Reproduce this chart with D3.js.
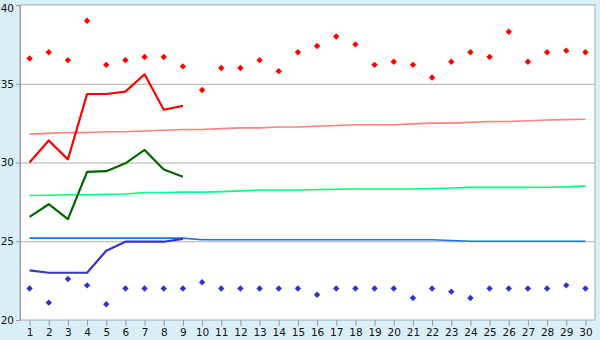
<!DOCTYPE html>
<html>
<head>
<meta charset="utf-8">
<style>
body { margin: 0; background: #d9eff7; }
svg { display: block; }
.axis text { font-family: "DejaVu Sans", Verdana, sans-serif; font-size: 10.5px; fill: #111; }
.axis path, .axis line { stroke: #999; }
.grid line { stroke: #b0b0b0; }
.grid path { display: none; }
</style>
</head>
<body>
<svg width="600" height="340"></svg>
<script src="https://d3js.org/d3.v7.min.js"></script>
<script>
var days = d3.range(1, 31);
var yTicks = [20, 25, 30, 35, 40];

var highDots = [36.6, 37.0, 36.5, 39.0, 36.2, 36.5, 36.7, 36.7, 36.1, 34.6,
  36.0, 36.0, 36.5, 35.8, 37.0, 37.4, 38.0, 37.5, 36.2, 36.4,
  36.2, 35.4, 36.4, 37.0, 36.7, 38.3, 36.4, 37.0, 37.1, 37.0];
var lowDots = [22.0, 21.1, 22.6, 22.2, 21.0, 22.0, 22.0, 22.0, 22.0, 22.4,
  22.0, 22.0, 22.0, 22.0, 22.0, 21.6, 22.0, 22.0, 22.0, 22.0,
  21.4, 22.0, 21.8, 21.4, 22.0, 22.0, 22.0, 22.0, 22.2, 22.0];

var redLine = [30.0, 31.4, 30.2, 34.35, 34.35, 34.5, 35.6, 33.35, 33.6];
var greenLine = [26.55, 27.35, 26.4, 29.4, 29.45, 29.95, 30.8, 29.55, 29.1];
var blueLine = [23.15, 23.0, 23.0, 23.0, 24.4, 24.97, 24.97, 24.97, 25.15];

var pinkThin = [31.8, 31.85, 31.9, 31.9, 31.95, 31.95, 32.0, 32.05, 32.1, 32.1,
  32.15, 32.2, 32.2, 32.25, 32.25, 32.3, 32.35, 32.4, 32.4, 32.4,
  32.45, 32.5, 32.5, 32.55, 32.6, 32.6, 32.65, 32.7, 32.72, 32.75];
var greenThin = [27.9, 27.92, 27.95, 27.95, 27.98, 28.0, 28.1, 28.1, 28.12, 28.12,
  28.15, 28.2, 28.25, 28.25, 28.25, 28.28, 28.3, 28.32, 28.32, 28.32,
  28.32, 28.35, 28.38, 28.42, 28.42, 28.42, 28.42, 28.43, 28.45, 28.5];
var blueThin = [25.2, 25.2, 25.2, 25.2, 25.2, 25.2, 25.2, 25.2, 25.2, 25.1,
  25.1, 25.1, 25.1, 25.1, 25.1, 25.1, 25.1, 25.1, 25.1, 25.1,
  25.1, 25.1, 25.05, 25.0, 25.0, 25.0, 25.0, 25.0, 25.0, 25.0];

var svg = d3.select("svg");
var plotL = 20, plotR = 595, plotT = 5, plotB = 320;

var x = d3.scaleLinear().domain([0.5, 30.5]).range([plotL, plotR]);
var y = d3.scaleLinear().domain([20, 40]).range([plotB, plotT]);

svg.append("rect")
  .attr("x", plotL).attr("y", plotT)
  .attr("width", plotR - plotL).attr("height", plotB - plotT)
  .attr("fill", "#fff").attr("stroke", "#aaa");

svg.append("g")
  .attr("class", "grid")
  .attr("transform", "translate(" + plotL + ",0)")
  .call(d3.axisLeft(y).tickValues([25, 30, 35]).tickSize(-(plotR - plotL)).tickFormat(""));

svg.append("g")
  .attr("class", "axis")
  .attr("transform", "translate(" + plotL + ",0)")
  .call(d3.axisLeft(y).tickValues(yTicks).tickSize(4).tickPadding(2).tickFormat(d3.format("d")))
  .call(function(g) {
    // top label sits a little lower so it is not clipped
    g.selectAll(".tick text").filter(function(d) { return d === 40; }).attr("dy", "0.62em");
  });

svg.append("g")
  .attr("class", "axis")
  .attr("transform", "translate(0," + plotB + ")")
  .call(d3.axisBottom(x).tickValues(days).tickSize(6).tickPadding(3).tickFormat(d3.format("d")))
  .call(function(g) { g.select(".domain").remove(); });

function drawLine(vals, color, width) {
  svg.append("path")
    .datum(vals)
    .attr("fill", "none")
    .attr("stroke", color)
    .attr("stroke-width", width)
    .attr("stroke-linejoin", "round")
    .attr("d", d3.line().x(function(d, i) { return x(days[i]); }).y(function(d) { return y(d); }));
}

drawLine(pinkThin, "#ff8080", 1.6);
drawLine(greenThin, "#00ff80", 1.6);
drawLine(blueThin, "#1a75e0", 1.6);
drawLine(redLine, "#ff0000", 2.2);
drawLine(greenLine, "#006600", 2.2);
drawLine(blueLine, "#3333cc", 2.2);

var diamond = d3.symbol().type(d3.symbolDiamond2).size(26);

function drawDots(vals, color) {
  svg.append("g").selectAll("path")
    .data(vals)
    .enter().append("path")
    .attr("d", diamond)
    .attr("fill", color)
    .attr("transform", function(d, i) { return "translate(" + x(days[i]) + "," + y(d) + ")"; });
}

drawDots(highDots, "#ff0000");
drawDots(lowDots, "#3333cc");
</script>
</body>
</html>
